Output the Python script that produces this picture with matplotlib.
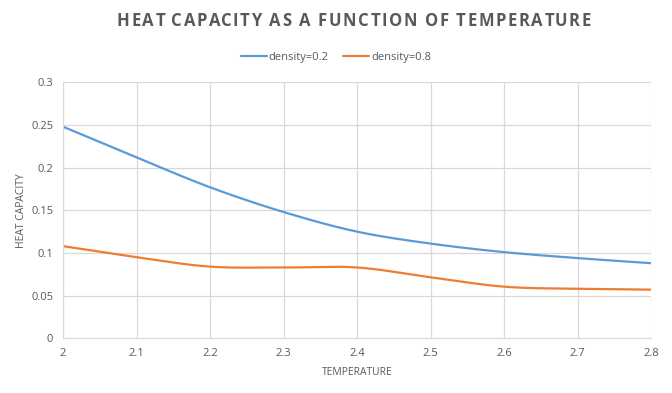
import numpy as np
import matplotlib
matplotlib.use("Agg")
import matplotlib.pyplot as plt
from matplotlib.textpath import TextPath
from matplotlib.font_manager import FontProperties

temperature = [2.0, 2.1, 2.2, 2.3, 2.4, 2.5, 2.6, 2.7, 2.8]
density_02 = [0.248, 0.212, 0.177, 0.148, 0.125, 0.111, 0.101, 0.094, 0.088]
density_08 = [0.108, 0.095, 0.084, 0.083, 0.083, 0.0715, 0.0605, 0.058, 0.057]
series_labels = ["density=0.2", "density=0.8"]
colors = ["#5B9BD5", "#ED7D31"]
title = "HEAT CAPACITY AS A FUNCTION OF TEMPERATURE"


def smooth(x, y, n=40):
    x = np.asarray(x, float)
    y = np.asarray(y, float)
    xs, ys = [], []
    for i in range(len(x) - 1):
        p0 = np.array([x[max(i - 1, 0)], y[max(i - 1, 0)]])
        p1 = np.array([x[i], y[i]])
        p2 = np.array([x[i + 1], y[i + 1]])
        p3 = np.array([x[min(i + 2, len(x) - 1)], y[min(i + 2, len(x) - 1)]])
        c1 = p1 + (p2 - p0) / 6.0
        c2 = p2 - (p3 - p1) / 6.0
        t = np.linspace(0, 1, n, endpoint=(i == len(x) - 2))
        b = ((1 - t) ** 3)[:, None] * p1 + (3 * (1 - t) ** 2 * t)[:, None] * c1 \
            + (3 * (1 - t) * t ** 2)[:, None] * c2 + (t ** 3)[:, None] * p2
        xs.append(b[:, 0])
        ys.append(b[:, 1])
    return np.concatenate(xs), np.concatenate(ys)


plt.rcParams['font.family'] = ['Open Sans', 'DejaVu Sans']
W, H = 672, 393
fig = plt.figure(figsize=(W / 100, H / 100), dpi=100)
ax = fig.add_axes([63 / W, 1 - 338.3 / H, (651 - 63) / W, (338.3 - 82.3) / H])

for ys, lab, c in zip([density_02, density_08], series_labels, colors):
    sx, sy = smooth(temperature, ys)
    ax.plot(sx, sy, color=c, lw=1.6, label=lab, solid_capstyle='round')

ax.set_xlim(2.0, 2.8)
ax.set_ylim(0, 0.3)
ax.set_xticks(temperature)
ax.set_xticklabels([f"{t:g}" for t in temperature])
ax.set_yticks([0, 0.05, 0.1, 0.15, 0.2, 0.25, 0.3])
ax.set_yticklabels(["0", "0.05", "0.1", "0.15", "0.2", "0.25", "0.3"])
ax.grid(True, color="#D9D9D9", lw=0.9)
ax.set_axisbelow(True)
for s in ax.spines.values():
    s.set_visible(False)
ax.spines['left'].set_visible(True)
ax.spines['bottom'].set_visible(True)
ax.spines['left'].set_color("#D9D9D9")
ax.spines['bottom'].set_color("#D9D9D9")
ax.tick_params(length=0, labelsize=8, colors="#595959", pad=7)
ax.set_xlabel("TEMPERATURE", fontsize=7.5, color="#595959", labelpad=6)
ax.set_ylabel("HEAT CAPACITY", fontsize=7.5, color="#595959", labelpad=3)

# Letter-spaced title drawn character by character
fp = FontProperties(family='Open Sans', weight='bold', size=12)
px_per_pt = 100 / 72


def wpx(s):
    return TextPath((0, 0), s, prop=fp).get_extents().width * px_per_pt


hw = wpx('H')
offs = [wpx(title[:i] + 'H') - hw if i > 0 else 0.0 for i in range(len(title))]
x_start, x_end = 117, 588
n = len(title)
natural = offs[-1] + wpx(title[-1])
spacing = (x_end - x_start - natural) / (n - 1)
for i, ch in enumerate(title):
    if ch != ' ':
        fig.text((x_start + offs[i] + i * spacing) / W, 1 - 21 / H, ch, ha='left', va='center',
                 fontproperties=fp, color="#595959")

leg = fig.legend(loc='center', bbox_to_anchor=(0.5, 1 - 57.5 / H), ncol=2, frameon=False,
                 fontsize=8, handlelength=2.3, handletextpad=0.2, columnspacing=1.3)
for t in leg.get_texts():
    t.set_color("#595959")

fig.savefig("out.png", dpi=100)
